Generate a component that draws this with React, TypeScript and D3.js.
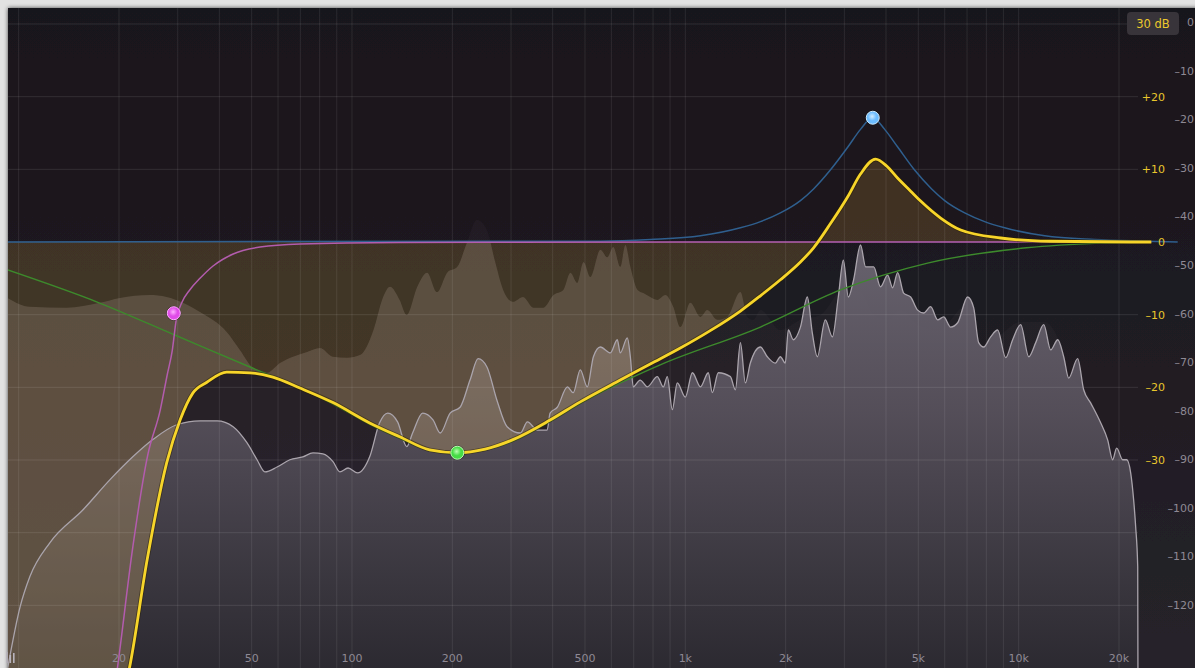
import React from "react";
import * as d3 from "d3";

type Pt = [number, number];

const WIDTH = 1195;
const HEIGHT = 668;

// axis labels
const freqTicks = [20, 50, 100, 200, 500, 1000, 2000, 5000, 10000, 20000];
const freqTickLabels = ["20", "50", "100", "200", "500", "1k", "2k", "5k", "10k", "20k"];
const levelTicks = [0, -10, -20, -30, -40, -50, -60, -70, -80, -90, -100, -110, -120];
const gainTicks = [20, 10, 0, -10, -20, -30];
const gainGrid = [30, 20, 10, 0, -10, -20, -30, -40, -50];
const rangeLabel = "30 dB";

// analyzer before the EQ  [Hz, dB]
const preSpectrum: Pt[] = [
    [9.27, -56.8], [10.8, -58.6], [13.9, -58.8], [17.5, -57.8], [20.1, -56.8], [24.7, -56.2],
    [27.8, -56.6], [31.1, -57.8], [35, -59.7], [42.1, -63.8], [46.1, -67.5], [50.5, -71.2],
    [55.6, -72.2], [60.8, -70.2], [66.5, -68.9], [73.3, -67.9], [80.1, -67.1], [87.7, -68.9],
    [96.6, -69.1], [106, -68.5], [116, -63.4], [124, -56.6], [130, -54.5], [139, -57.2],
    [146, -60.3], [157, -54.5], [168, -51.6], [180, -55.6], [193, -51.6], [207, -50.4],
    [221, -45.5], [237, -40.7], [254, -42.8], [268, -49], [284, -55.1], [304, -57.6],
    [326, -56.6], [350, -58.8], [375, -58.8], [402, -56.2], [431, -55.1], [452, -51.6],
    [474, -53.7], [495, -49.4], [519, -52.5], [556, -46.9], [583, -48.4], [608, -46.3],
    [638, -50.4], [661, -45.9], [684, -50.4], [718, -55.1], [748, -55.8], [785, -56.6],
    [824, -57.2], [871, -56.2], [920, -58.6], [966, -62.8], [1035, -57.8], [1110, -60.7],
    [1164, -59.3], [1247, -61.3], [1336, -60.7], [1463, -55.6], [1535, -60.7], [1600, -61.3],
    [1680, -59.3], [1928, -63.4], [2215, -61.3], [2543, -60.3], [2979, -55.1], [3354, -55.6],
    [3673, -60.3], [4045, -61.3], [4421, -59.3], [4977, -62.3], [5715, -63.4], [7030, -58.2],
    [7852, -67.5], [8830, -64.4], [10140, -61.7], [11890, -61.7], [13100, -65], [14130, -72.6],
    [15670, -75.3], [17620, -82.3], [19140, -89.7], [21090, -89.7], [22130, -98.4], [22760, -136],
];

// analyzer after the EQ  [Hz, dB]
const postSpectrum: Pt[] = [
    [9.27, -133], [10.1, -120.4], [10.8, -114.2], [12.4, -107.2], [15.6, -100.4], [18.8, -94.2],
    [22, -89.5], [25.2, -86], [29.8, -82.9], [35, -82.1], [39.4, -82.1], [44, -83.3],
    [48.4, -86.6], [51.9, -90.1], [54.8, -92.6], [59.6, -91.6], [65.1, -90.1], [71.2, -89.5],
    [76.4, -88.7], [81.8, -88.9], [87.7, -90.5], [92, -92.6], [97.3, -91.8], [104, -92.8],
    [113, -89.5], [121, -82.5], [128, -80.5], [137, -82.3], [146, -87.4], [152, -84.6],
    [163, -80.5], [175, -81.9], [184, -84.6], [197, -80.5], [211, -79.3], [226, -73.7],
    [239, -69.3], [254, -71], [272, -77.8], [292, -83.3], [320, -84.6], [336, -82.3],
    [360, -84], [385, -84], [393, -80.5], [413, -79.3], [443, -75.1], [461, -76.3],
    [484, -71.6], [508, -75.1], [530, -68.9], [556, -66.9], [596, -68.1], [625, -65.4],
    [638, -68.1], [670, -65], [684, -68.9], [698, -75.1], [732, -73.7], [769, -75.1],
    [824, -73], [859, -75.1], [883, -73], [914, -79.8], [946, -74.3], [1000, -77.2],
    [1050, -72.2], [1110, -75.1], [1172, -72.2], [1205, -76.3], [1256, -72.2], [1365, -73],
    [1413, -75.7], [1463, -66], [1514, -74.3], [1567, -70.2], [1680, -66.9], [1762, -68.9],
    [1862, -70.2], [1928, -68.9], [1995, -70.2], [2037, -63.4], [2109, -65.4], [2215, -62.8],
    [2323, -56.6], [2404, -64], [2489, -68.9], [2630, -61.3], [2762, -64.8], [2877, -56.6],
    [2979, -49], [3083, -56.6], [3197, -53.1], [3354, -45.9], [3475, -50.4], [3673, -50.4],
    [3851, -54.5], [4045, -52.1], [4188, -54.7], [4335, -51.6], [4518, -55.8], [4742, -56.6],
    [4977, -59.3], [5188, -59.9], [5445, -58.6], [5715, -61.3], [5957, -60.7], [6252, -62.8],
    [6561, -61.9], [7030, -56.6], [7328, -58.8], [7586, -66], [7852, -66.9], [8241, -64.8],
    [8650, -63.4], [9141, -69.1], [9594, -65.4], [10140, -62.3], [10720, -68.9], [11250, -66],
    [11890, -62.3], [12480, -67.5], [13100, -65.4], [13650, -68.9], [14130, -73.3], [15030, -69.3],
    [15670, -75.7], [16440, -78.4], [17620, -82.5], [18490, -86], [19140, -90.1], [19680, -87.7],
    [20510, -90.1], [21090, -90.1], [21680, -92.8], [22130, -98.4], [22440, -103.9], [22760, -112.1],
    [22800, -136],
];

// band responses  [Hz, gain dB]
const lowCutCurve: Pt[] = [
    [18.9, -65], [19.8, -58.5], [22, -42], [24.4, -29.3], [26.6, -23.1], [27.9, -18.3],
    [28.9, -14.9], [29.7, -10.7], [30.9, -8.3], [32.6, -6.6], [35, -5], [38.3, -3.3],
    [44, -1.65], [53, -0.7], [69.8, -0.28], [139, -0.07], [1000, 0], [25000, 0],
];
const lowBellCurve: Pt[] = [
    [9.27, -3.85], [17.5, -8.4], [29.4, -12.8], [49.4, -17.2], [69.8, -20.1], [87.7, -22.3],
    [113, -25.1], [139, -27], [171, -28.7], [207, -29.1], [251, -28.6], [304, -27.4],
    [393, -24.7], [484, -22.2], [638, -19.4], [841, -16.9], [1680, -11.7], [2920, -6.6],
    [5330, -2.9], [10560, -0.8], [17620, -0.15], [25000, 0],
];
const highBellCurve: Pt[] = [
    [5, 0], [556, 0.12], [785, 0.35], [1110, 0.85], [1463, 1.95], [1680, 2.8], [1928, 4],
    [2215, 5.7], [2425, 7.3], [2723, 9.9], [3077, 13.1], [3354, 15.5], [3647, 17.1],
    [3963, 15.5], [4331, 13.1], [4873, 9.9], [5483, 7.3], [5998, 5.7], [6887, 4],
    [7907, 2.8], [9078, 1.95], [11970, 0.85], [16900, 0.35], [23880, 0.12], [30000, 0],
];
const totalCurve: Pt[] = [
    [8, -260], [12, -160], [17, -88], [18.9, -68], [21.5, -58.6], [24.3, -43.7], [27.8, -30.4],
    [30.5, -24.5], [33.3, -20.8], [36.7, -19.3], [42.1, -17.9], [49.4, -18], [57.9, -18.6],
    [69.8, -20.1], [87.7, -22.1], [113, -24.9], [139, -26.8], [171, -28.6], [207, -29],
    [251, -28.5], [304, -27.2], [393, -24.5], [484, -22], [638, -19], [785, -16.8],
    [966, -14.6], [1188, -12.2], [1463, -9.5], [1680, -7.4], [1928, -5.2], [2215, -2.75],
    [2425, -0.8], [2723, 2.5], [3077, 6.3], [3354, 9.35], [3722, 11.4], [4018, 10.45],
    [4331, 8.8], [4742, 7], [5090, 5.6], [5834, 3.3], [6700, 1.65], [8830, 0.55],
    [12430, 0.1], [21680, 0], [25000, 0],
];

// band nodes
const bandFreqs = [29.2, 207, 3650];
const bandGains = [-9.8, -29.0, 17.1];
const bandColors = ["#e04ce8", "#46dc46", "#6cbcff"];
const bandLight = ["#ffb0ff", "#b8ffb0", "#d0ecff"];

export default function App() {
    const x = d3.scaleLog().domain([20, 20000]).range([119, 1119]);
    const ySpec = d3.scaleLinear().domain([0, -120]).range([22, 605]);
    const yEq = d3.scaleLinear().domain([30, -30]).range([24, 460]);
    const gridFreqs = d3.scaleLog().domain([10, 20000]).ticks();

    const specLine = d3.line<Pt>().x(d => x(d[0])).y(d => ySpec(d[1])).curve(d3.curveMonotoneX);
    const specArea = d3.area<Pt>().x(d => x(d[0])).y0(HEIGHT + 20).y1(d => ySpec(d[1])).curve(d3.curveMonotoneX);
    const eqLine = d3.line<Pt>().x(d => x(d[0])).y(d => yEq(d[1])).curve(d3.curveMonotoneX);
    const eqArea = d3.area<Pt>().x(d => x(d[0])).y0(yEq(0)).y1(d => yEq(d[1])).curve(d3.curveMonotoneX);

    const font = "'DejaVu Sans', sans-serif";

    return (
        <div style={{ position: "absolute", left: 0, top: 0 }}>
            <svg width={WIDTH} height={HEIGHT} style={{ display: "block" }}>
                <defs>
                    <linearGradient id="bg" x1="0" y1="0" x2="0" y2="1">
                        <stop offset="0" stopColor="#19141a" />
                        <stop offset="1" stopColor="#26232a" />
                    </linearGradient>
                    <linearGradient id="post" gradientUnits="userSpaceOnUse" x1="0" y1="240" x2="0" y2="668">
                        <stop offset="0" stopColor="#706a76" />
                        <stop offset="0.4" stopColor="#59535e" />
                        <stop offset="1" stopColor="#2c2a31" />
                    </linearGradient>
                    <filter id="shadow" x="-5%" y="-5%" width="110%" height="110%">
                        <feDropShadow dx="0" dy="0" stdDeviation="2" floodColor="#000" floodOpacity="0.7" />
                    </filter>
                    <clipPath id="plot">
                        <rect x={8} y={8} width={WIDTH - 8} height={HEIGHT - 8} />
                    </clipPath>
                    <clipPath id="eqClip">
                        <path d={eqArea(totalCurve) ?? ""} />
                    </clipPath>
                    {bandColors.map((c, i) => (
                        <radialGradient key={i} id={`node${i}`} cx="0.45" cy="0.4" r="0.6">
                            <stop offset="0" stopColor={bandLight[i]} />
                            <stop offset="0.55" stopColor={c} />
                            <stop offset="1" stopColor={c} />
                        </radialGradient>
                    ))}
                </defs>

                <rect width={WIDTH} height={HEIGHT} fill="#e2e2e2" />
                <rect x={8} y={8} width={WIDTH} height={HEIGHT} fill="url(#bg)" filter="url(#shadow)" />

                <g clipPath="url(#plot)">
                    {/* analyzers */}
                    <path d={specArea(preSpectrum) ?? ""} fill="rgba(190,180,190,0.035)" />
                    <path d={specArea(postSpectrum) ?? ""} fill="url(#post)" opacity={0.9} />

                    {/* EQ fill */}
                    <path d={eqArea(totalCurve) ?? ""} fill="rgba(140,108,48,0.32)" />
                    <path d={specArea(preSpectrum) ?? ""} fill="rgba(205,190,175,0.17)" clipPath="url(#eqClip)" />

                    {/* grid */}
                    {gridFreqs.map(f => (
                        <line key={f} x1={x(f)} x2={x(f)} y1={8} y2={HEIGHT}
                            stroke="rgba(255,255,255,0.085)" strokeWidth={1} />
                    ))}
                    {gainGrid.map(g => (
                        <line key={g} x1={8} x2={1138} y1={yEq(g)} y2={yEq(g)}
                            stroke="rgba(255,255,255,0.1)" strokeWidth={1} />
                    ))}

                    <path d={specLine(postSpectrum) ?? ""} fill="none" stroke="#aaa4ac" strokeWidth={1.3} />

                    {/* band curves */}
                    <path d={eqLine(lowBellCurve) ?? ""} fill="none" stroke="#3d8a2c" strokeWidth={1.4} />
                    <path d={eqLine(highBellCurve) ?? ""} fill="none" stroke="#2f5f8e" strokeWidth={1.5} />
                    <path d={eqLine(lowCutCurve) ?? ""} fill="none" stroke="#b35cae" strokeWidth={1.5} />
                    <path d={eqLine(totalCurve) ?? ""} fill="none" stroke="rgba(40,30,0,0.5)" strokeWidth={4.5} />
                    <path d={eqLine(totalCurve) ?? ""} fill="none" stroke="#f7d52a" strokeWidth={2.8} />

                    {/* nodes */}
                    {bandFreqs.map((f, i) => (
                        <g key={i}>
                            <circle cx={x(f)} cy={yEq(bandGains[i])} r={7.5} fill="rgba(0,0,0,0.35)" />
                            <circle cx={x(f)} cy={yEq(bandGains[i])} r={6.5} fill={`url(#node${i})`}
                                stroke={bandLight[i]} strokeWidth={1} />
                        </g>
                    ))}
                </g>

                {/* frequency labels */}
                {freqTicks.map((f, i) => (
                    <text key={f} x={x(f)} y={662} textAnchor="middle" fontFamily={font}
                        fontSize={11} fill="#8e8994">{freqTickLabels[i]}</text>
                ))}
                <g fill="#b8b4bc">
                    <rect x={6} y={652} width={1.6} height={11} />
                    <rect x={9.5} y={655} width={1.6} height={8} />
                    <rect x={13} y={653} width={1.6} height={10} />
                </g>

                {/* analyzer level labels */}
                {levelTicks.map(v => (
                    <text key={v} x={1194} y={ySpec(v) + 4} textAnchor="end" fontFamily={font}
                        fontSize={11} fill="#8e8994">{v === 0 ? "0" : `–${Math.abs(v)}`}</text>
                ))}

                {/* EQ gain labels */}
                {gainTicks.map(g => (
                    <text key={g} x={1165} y={yEq(g) + 4} textAnchor="end" fontFamily={font}
                        fontSize={11} fill="#e9c62c">{g > 0 ? `+${g}` : g === 0 ? "0" : `–${Math.abs(g)}`}</text>
                ))}

                {/* range badge */}
                <rect x={1127} y={12} width={52} height={23} rx={4} fill="#38343a" />
                <text x={1153} y={28} textAnchor="middle" fontFamily={font} fontSize={11.5} fill="#ecc92c">
                    {rangeLabel}
                </text>
            </svg>
        </div>
    );
}
